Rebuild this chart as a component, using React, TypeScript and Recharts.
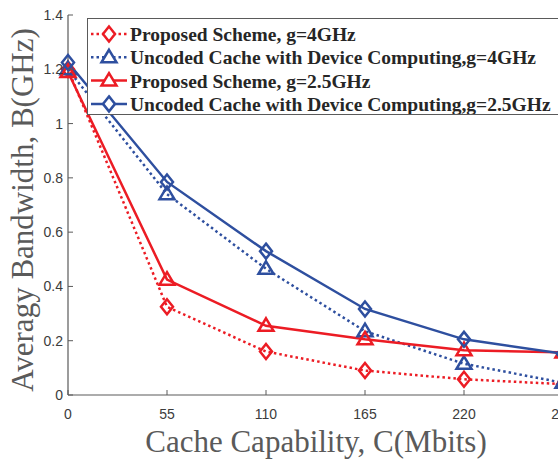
import { LineChart, Line, XAxis, YAxis, Legend } from "recharts"

const capacity = [0, 55, 110, 165, 220, 275]
const proposed4 = [1.2, 0.325, 0.16, 0.09, 0.058, 0.04]
const uncoded4 = [1.2, 0.74, 0.465, 0.235, 0.115, 0.045]
const proposed25 = [1.19, 0.425, 0.255, 0.205, 0.165, 0.157]
const uncoded25 = [1.225, 0.785, 0.53, 0.317, 0.205, 0.152]

const xTicks = [0, 55, 110, 165, 220, 275]
const yTicks = [0, 0.2, 0.4, 0.6, 0.8, 1, 1.2, 1.4]

const RED = "#ec1c24"
const BLUE = "#2e4f9f"
const AXIS = "#5a5a5a"
const TEXT = "#3c3c3c"

const data = capacity.map((c, i) => ({
  c,
  p4: proposed4[i],
  u4: uncoded4[i],
  p25: proposed25[i],
  u25: uncoded25[i],
}))

type Marker = "diamond" | "triangle"

const series: { key: string; name: string; color: string; dotted: boolean; marker: Marker }[] = [
  { key: "p4", name: "Proposed Scheme, g=4GHz", color: RED, dotted: true, marker: "diamond" },
  { key: "u4", name: "Uncoded Cache with Device Computing,g=4GHz", color: BLUE, dotted: true, marker: "triangle" },
  { key: "p25", name: "Proposed Scheme, g=2.5GHz", color: RED, dotted: false, marker: "triangle" },
  { key: "u25", name: "Uncoded Cache with Device Computing,g=2.5GHz", color: BLUE, dotted: false, marker: "diamond" },
]

function markerPath(m: Marker, cx: number, cy: number) {
  if (m === "diamond") return `M${cx},${cy - 7.5} L${cx + 6},${cy} L${cx},${cy + 7.5} L${cx - 6},${cy} Z`
  return `M${cx},${cy - 7.5} L${cx + 7.5},${cy + 5} L${cx - 7.5},${cy + 5} Z`
}

const makeDot = (m: Marker, color: string) => (props: any) => {
  const { cx, cy, index } = props
  if (cx == null || cy == null) return <g key={index} />
  return <path key={index} d={markerPath(m, cx, cy)} fill="none" stroke={color} strokeWidth={2.5} />
}

const BottomTick = (props: any) => {
  const { x, y, payload } = props
  return (
    <g>
      <line x1={x} y1={y} x2={x} y2={y - 5} stroke={AXIS} strokeWidth={1} />
      <text x={x} y={y + 24} textAnchor="middle" fontSize={14} fill={TEXT} fontFamily="'Liberation Sans', Arial, sans-serif">
        {payload.value}
      </text>
    </g>
  )
}

const TopTick = (props: any) => {
  const { x, y } = props
  return <line x1={x} y1={y} x2={x} y2={y + 5} stroke={AXIS} strokeWidth={1} />
}

const LeftTick = (props: any) => {
  const { x, y, payload } = props
  const label = String(Math.round(payload.value * 10) / 10)
  return (
    <g>
      <line x1={x} y1={y} x2={x + 5} y2={y} stroke={AXIS} strokeWidth={1} />
      <text x={x - 5} y={y + 5} textAnchor="end" fontSize={14} fill={TEXT} fontFamily="'Liberation Sans', Arial, sans-serif">
        {label}
      </text>
    </g>
  )
}

const LegendBox = () => (
  <div
    style={{
      width: 480,
      height: 97,
      border: `1px solid ${AXIS}`,
      background: "#fff",
      boxSizing: "border-box",
    }}
  >
    <svg width={478} height={95}>
      {series.map((s, i) => {
        const cy = 15 + i * 23.3
        return (
          <g key={s.key}>
            <line
              x1={3}
              y1={cy}
              x2={39}
              y2={cy}
              stroke={s.color}
              strokeWidth={2.5}
              strokeDasharray={s.dotted ? "2.5 3" : undefined}
            />
            <path d={markerPath(s.marker, 21, cy)} fill="#fff" stroke={s.color} strokeWidth={2.5} />
            <text
              x={42}
              y={cy + 7}
              fontSize={19.5}
              fontWeight="bold"
              fill="#262626"
              fontFamily="'Liberation Serif', 'Times New Roman', serif"
            >
              {s.name}
            </text>
          </g>
        )
      })}
    </svg>
  </div>
)

export default function App() {
  return (
    <div style={{ position: "absolute", left: 0, top: 0, width: 558, height: 459, overflow: "hidden", background: "#fff" }}>
      <LineChart width={620} height={459} data={data} margin={{ top: 15, right: 57, bottom: 0, left: 0 }}>
        <XAxis
          dataKey="c"
          type="number"
          domain={[0, 275]}
          ticks={xTicks}
          tick={<BottomTick />}
          tickSize={0}
          tickMargin={0}
          tickLine={false}
          axisLine={{ stroke: AXIS, strokeWidth: 1.2 }}
          height={64}
          label={{
            content: () => (
              <text
                x={316}
                y={452}
                textAnchor="middle"
                fontSize={31}
                fill={AXIS}
                fontFamily="'Liberation Serif', 'Times New Roman', serif"
              >
                Cache Capability, C(Mbits)
              </text>
            ),
          }}
        />
        <XAxis
          xAxisId="top"
          orientation="top"
          dataKey="c"
          type="number"
          domain={[0, 275]}
          ticks={xTicks}
          tick={<TopTick />}
          tickSize={0}
          tickMargin={0}
          tickLine={false}
          axisLine={{ stroke: AXIS, strokeWidth: 1.2 }}
          height={0}
        />
        <YAxis
          type="number"
          domain={[0, 1.4]}
          ticks={yTicks}
          tick={<LeftTick />}
          tickSize={0}
          tickMargin={0}
          tickLine={false}
          axisLine={{ stroke: AXIS, strokeWidth: 1.2 }}
          width={68}
          label={{
            content: () => (
              <text
                x={33}
                y={210}
                transform="rotate(-90 33 210)"
                textAnchor="middle"
                fontSize={31}
                fill={AXIS}
                fontFamily="'Liberation Serif', 'Times New Roman', serif"
              >
                Averagy Bandwidth, B(GHz)
              </text>
            ),
          }}
        />
        {series.map((s) => (
          <Line
            key={s.key}
            dataKey={s.key}
            name={s.name}
            stroke={s.color}
            strokeWidth={2.5}
            strokeDasharray={s.dotted ? "2.5 3" : undefined}
            dot={makeDot(s.marker, s.color)}
            activeDot={false}
            isAnimationActive={false}
          />
        ))}
        <Legend
          layout="vertical"
          align="center"
          verticalAlign="middle"
          content={() => <LegendBox />}
          wrapperStyle={{ position: "absolute", left: 87, top: 18, width: 480 }}
        />
      </LineChart>
    </div>
  )
}
